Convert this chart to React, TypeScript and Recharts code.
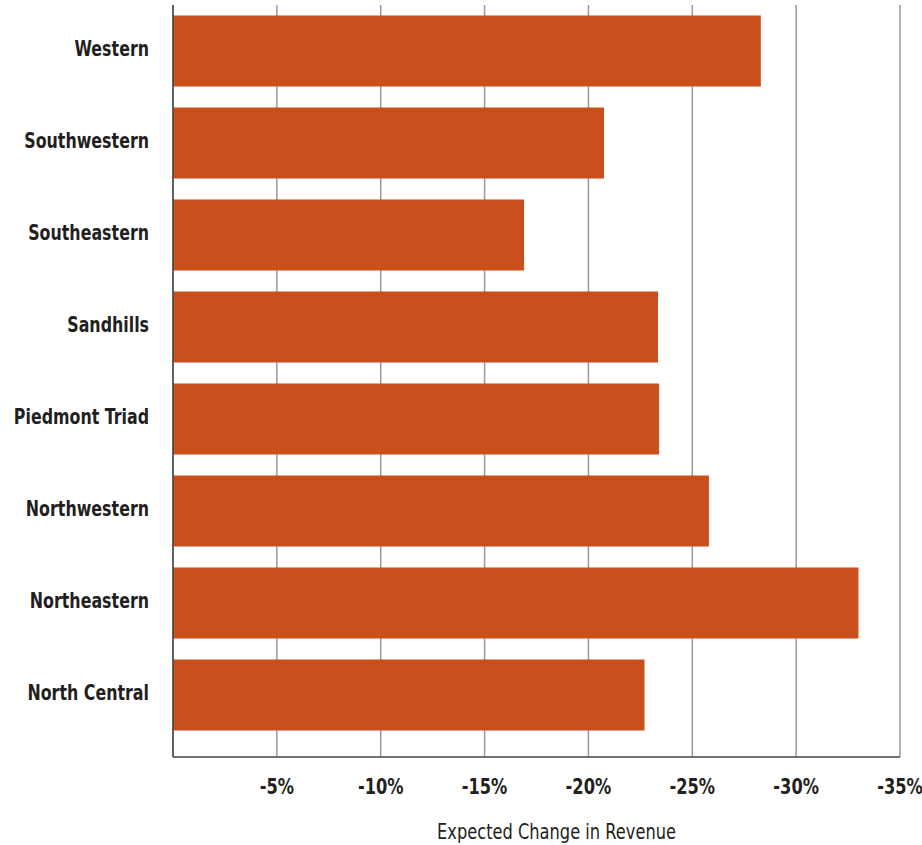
import { BarChart, Bar, XAxis, YAxis, CartesianGrid } from "recharts"

document.body.style.margin = "0"

const regions = ["Western", "Southwestern", "Southeastern", "Sandhills", "Piedmont Triad", "Northwestern", "Northeastern", "North Central"]
const changes = [-28.3, -20.75, -16.9, -23.35, -23.4, -25.8, -33.0, -22.7]
const xTicks = [-5, -10, -15, -20, -25, -30, -35]

const FONT = "'DejaVu Sans Condensed', 'Liberation Sans Narrow', sans-serif"
const INK = "#231f20"
const BAR = "#C94F1C"

// narrow the font a bit, the original uses a condensed face
function RegionTick(props: any) {
  const { x, y, payload } = props
  return (
    <g transform={`translate(${x},${y - 2})`}>
      <text transform="scale(0.84,1)" textAnchor="end" dy="0.35em" fontSize={21} fontWeight={700} fill={INK} fontFamily={FONT}>
        {payload.value}
      </text>
    </g>
  )
}

function PctTick(props: any) {
  const { x, y, payload } = props
  return (
    <g transform={`translate(${x},${y})`}>
      <text transform="scale(0.86,1)" textAnchor="middle" dy="0.71em" fontSize={21} fontWeight={700} fill={INK} fontFamily={FONT}>
        {`${payload.value}%`}
      </text>
    </g>
  )
}

function AxisTitle(props: any) {
  const vb = props.viewBox || { x: 173, y: 757, width: 727 }
  const cx = vb.x + vb.width / 2 + 20
  return (
    <g transform={`translate(${cx},${839})`}>
      <text transform="scale(0.86,1)" textAnchor="middle" fontSize={21} fill={INK} fontFamily={FONT}>
        Expected Change in Revenue
      </text>
    </g>
  )
}

export default function App() {
  const data = regions.map((region, i) => ({ region, change: changes[i] }))

  return (
    <div style={{ width: 922, height: 845, background: "#fff" }}>
      <BarChart
        width={922}
        height={845}
        data={data}
        layout="vertical"
        margin={{ top: 5, right: 22, left: 0, bottom: 0 }}
        barCategoryGap="11.5%"
      >
        <CartesianGrid horizontal={false} stroke="#9a9a9a" strokeWidth={1.5} />
        <XAxis
          type="number"
          domain={[-35, 0]}
          ticks={xTicks}
          reversed
          height={88}
          tickSize={0}
          tickMargin={22}
          axisLine={{ stroke: "#444", strokeWidth: 1.5 }}
          tick={<PctTick />}
          label={{ content: <AxisTitle /> }}
        />
        <YAxis
          type="category"
          dataKey="region"
          width={173}
          tickSize={0}
          tickMargin={24}
          padding={{ top: 0, bottom: 16 }}
          axisLine={{ stroke: "#444", strokeWidth: 1.5 }}
          tick={<RegionTick />}
        />
        <Bar dataKey="change" fill={BAR} isAnimationActive={false} />
      </BarChart>
    </div>
  )
}
